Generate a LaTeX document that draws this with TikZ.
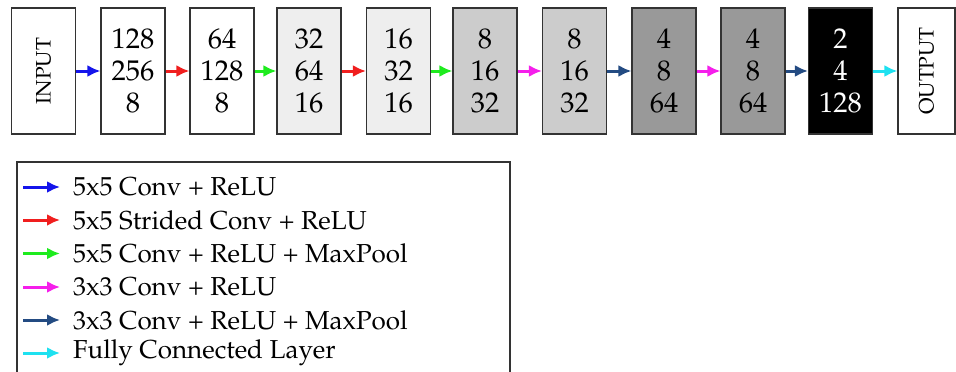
\documentclass[tikz,border=0pt]{standalone}
\usepackage[T1]{fontenc}
\usepackage{mathpazo}
\usetikzlibrary{arrows.meta}
\definecolor{cblue}{RGB}{20,20,235}
\definecolor{cred}{RGB}{240,30,30}
\definecolor{cgreen}{RGB}{30,235,30}
\definecolor{cmag}{RGB}{245,30,235}
\definecolor{cnavy}{RGB}{35,75,130}
\definecolor{ccyan}{RGB}{30,225,240}
\definecolor{gA}{RGB}{238,238,238}
\definecolor{gB}{RGB}{204,204,204}
\definecolor{gC}{RGB}{153,153,153}
\tikzset{
  layer/.style={draw=black!80, line width=1.1pt, minimum width=64pt, minimum height=126pt,
    inner sep=0pt, align=center, font=\fontsize{28.5}{32}\selectfont},
  endbox/.style={layer, font=\fontsize{21}{24}\selectfont},
  arr/.style={line width=3pt, -{Latex[length=13pt,width=12pt]}},
  legtext/.style={anchor=west, inner sep=0pt, font=\fontsize{26}{30}\selectfont},
}
\begin{document}
\begin{tikzpicture}[x=1pt,y=-1pt]
\useasboundingbox (0,0) rectangle (956,372);
\clip (0,0) rectangle (956,372);
\node[endbox] (b1) at (43.5,71) {\rotatebox{90}{INPUT}};
\node[layer] (b2) at (133,71) {128\\256\\8};
\node[layer] (b3) at (222,71) {64\\128\\8};
\node[layer, fill=gA] (b4) at (309,71) {32\\64\\16};
\node[layer, fill=gA] (b5) at (398.5,71) {16\\32\\16};
\node[layer, fill=gB] (b6) at (485,71) {8\\16\\32};
\node[layer, fill=gB] (b7) at (574.5,71) {8\\16\\32};
\node[layer, fill=gC] (b8) at (664,71) {4\\8\\64};
\node[layer, fill=gC] (b9) at (753,71) {4\\8\\64};
\node[layer, fill=black, text=white] (b10) at (840.5,71) {2\\4\\128};
\node[endbox, minimum width=57pt] (b11) at (926.5,71) {\rotatebox{90}{OUTPUT}};
\draw[arr, cblue] (b1.east) -- (b2.west);
\draw[arr, cred] (b2.east) -- (b3.west);
\draw[arr, cgreen] (b3.east) -- (b4.west);
\draw[arr, cred] (b4.east) -- (b5.west);
\draw[arr, cgreen] (b5.east) -- (b6.west);
\draw[arr, cmag] (b6.east) -- (b7.west);
\draw[arr, cnavy] (b7.east) -- (b8.west);
\draw[arr, cmag] (b8.east) -- (b9.west);
\draw[arr, cnavy] (b9.east) -- (b10.west);
\draw[arr, ccyan] (b10.east) -- (b11.west);
% legend
\draw[draw=black!80, line width=1.1pt] (17,162) rectangle (510,390);
\coordinate (la0) at (23,187); \coordinate (lb0) at (60,187);
\coordinate (la1) at (23,220); \coordinate (lb1) at (60,220);
\coordinate (la2) at (23,253.5); \coordinate (lb2) at (60,253.5);
\coordinate (la3) at (23,287); \coordinate (lb3) at (60,287);
\coordinate (la4) at (23,320); \coordinate (lb4) at (60,320);
\coordinate (la5) at (23,353); \coordinate (lb5) at (60,353);
\draw[arr, cblue] (la0) -- (lb0);
\draw[arr, cred] (la1) -- (lb1);
\draw[arr, cgreen] (la2) -- (lb2);
\draw[arr, cmag] (la3) -- (lb3);
\draw[arr, cnavy] (la4) -- (lb4);
\draw[arr, ccyan] (la5) -- (lb5);
\node[legtext] (lt0) at (73,187) {5x5 Conv + ReLU};
\node[legtext] (lt1) at (73,220) {5x5 Strided Conv + ReLU};
\node[legtext] (lt2) at (73,253.5) {5x5 Conv + ReLU + MaxPool};
\node[legtext] (lt3) at (73,287) {3x3 Conv + ReLU};
\node[legtext] (lt4) at (73,320) {3x3 Conv + ReLU + MaxPool};
\node[legtext] (lt5) at (73,353) {Fully Connected Layer};
\end{tikzpicture}
\end{document}
